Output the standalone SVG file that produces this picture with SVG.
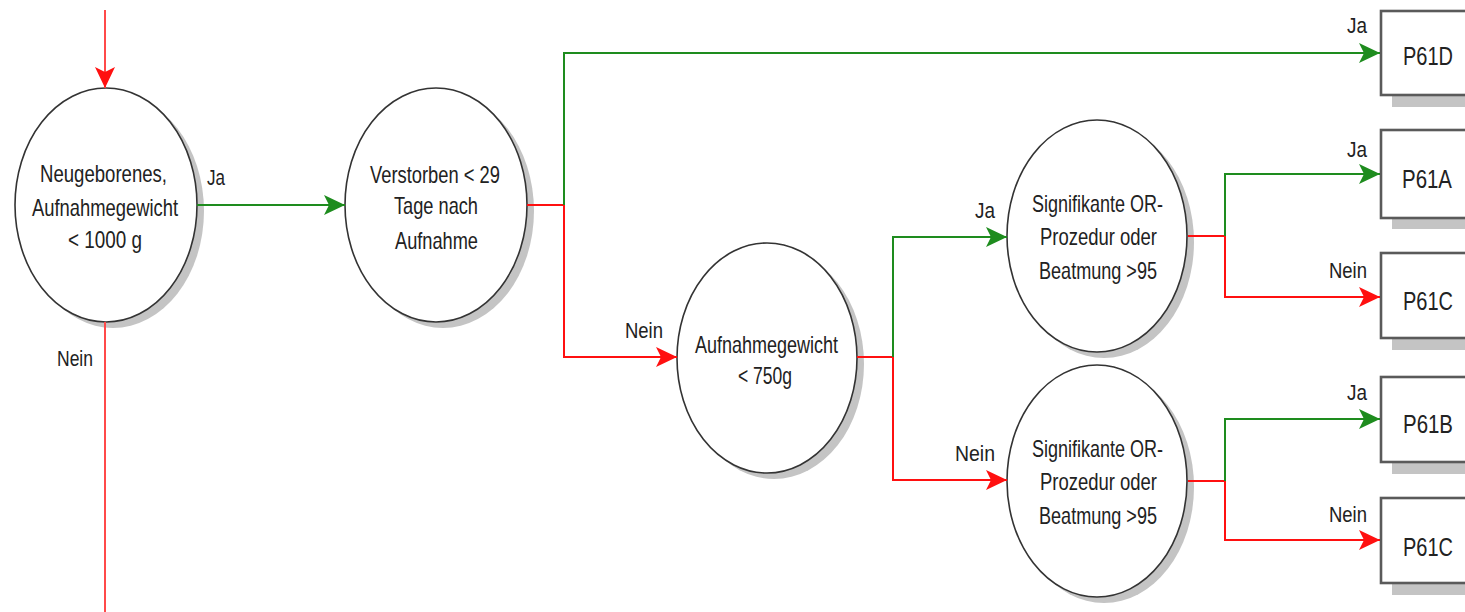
<svg xmlns="http://www.w3.org/2000/svg" width="1465" height="612" viewBox="0 0 1465 612">
<style>
.t{font-family:"Liberation Sans Narrow","Liberation Sans",Arial,sans-serif;font-size:24px;fill:#222}
.l{font-family:"Liberation Sans Narrow","Liberation Sans",Arial,sans-serif;font-size:22px;fill:#222}
.b{font-family:"Liberation Sans Narrow","Liberation Sans",Arial,sans-serif;font-size:25px;fill:#222}
.node{fill:#fff;stroke:#333;stroke-width:1.6}
.sh{fill:#c4c4c4}
.box{fill:#fff;stroke:#5a5a5a;stroke-width:2.6}
.g{fill:none;stroke:#1e8c1e;stroke-width:2}
.r{fill:none;stroke:#ff1010;stroke-width:2}
.rl{fill:none;stroke:#ff4a4a;stroke-width:2}
</style>
<defs>
<marker id="ag" markerUnits="userSpaceOnUse" markerWidth="24" markerHeight="22" refX="21" refY="10" orient="auto"><path d="M0,0 L21,10 L0,20 L5,10 z" fill="#1e8c1e"/></marker>
<marker id="ar" markerUnits="userSpaceOnUse" markerWidth="24" markerHeight="22" refX="21" refY="10" orient="auto"><path d="M0,0 L21,10 L0,20 L5,10 z" fill="#ff1010"/></marker>
</defs>
<g id="n1">
<ellipse class="sh" cx="113" cy="211" rx="91" ry="117"/>
<ellipse class="node" cx="106" cy="205" rx="91" ry="117"/>
<text class="t" x="40" y="182" textLength="127" lengthAdjust="spacingAndGlyphs">Neugeborenes,</text>
<text class="t" x="32" y="216" textLength="146" lengthAdjust="spacingAndGlyphs">Aufnahmegewicht</text>
<text class="t" x="68" y="248" textLength="74" lengthAdjust="spacingAndGlyphs">&lt; 1000 g</text>
</g>
<g id="n2">
<ellipse class="sh" cx="443" cy="211" rx="91" ry="117"/>
<ellipse class="node" cx="436" cy="205" rx="91" ry="117"/>
<text class="t" x="370" y="183" textLength="130" lengthAdjust="spacingAndGlyphs">Verstorben &lt; 29</text>
<text class="t" x="394" y="214" textLength="84" lengthAdjust="spacingAndGlyphs">Tage nach</text>
<text class="t" x="395" y="249" textLength="83" lengthAdjust="spacingAndGlyphs">Aufnahme</text>
</g>
<g id="n3">
<ellipse class="sh" cx="774" cy="364" rx="90" ry="115"/>
<ellipse class="node" cx="767" cy="358" rx="90" ry="115"/>
<text class="t" x="695" y="353" textLength="143" lengthAdjust="spacingAndGlyphs">Aufnahmegewicht</text>
<text class="t" x="738" y="384" textLength="54" lengthAdjust="spacingAndGlyphs">&lt; 750g</text>
</g>
<g id="n4">
<ellipse class="sh" cx="1104" cy="242" rx="90" ry="116"/>
<ellipse class="node" cx="1097" cy="236" rx="90" ry="116"/>
<text class="t" x="1032" y="212" textLength="131" lengthAdjust="spacingAndGlyphs">Signifikante OR-</text>
<text class="t" x="1040" y="245" textLength="117" lengthAdjust="spacingAndGlyphs">Prozedur oder</text>
<text class="t" x="1039" y="279" textLength="118" lengthAdjust="spacingAndGlyphs">Beatmung &gt;95</text>
</g>
<g id="n5">
<ellipse class="sh" cx="1104" cy="487" rx="90" ry="116"/>
<ellipse class="node" cx="1097" cy="481" rx="90" ry="116"/>
<text class="t" x="1032" y="457" textLength="131" lengthAdjust="spacingAndGlyphs">Signifikante OR-</text>
<text class="t" x="1040" y="490" textLength="117" lengthAdjust="spacingAndGlyphs">Prozedur oder</text>
<text class="t" x="1039" y="524" textLength="118" lengthAdjust="spacingAndGlyphs">Beatmung &gt;95</text>
</g>
<g id="p61d">
<rect class="sh" x="1392" y="22" width="100" height="85"/>
<rect class="box" x="1381" y="11" width="100" height="84"/>
<text class="b" x="1403" y="65" textLength="50" lengthAdjust="spacingAndGlyphs">P61D</text>
</g>
<g id="p61a">
<rect class="sh" x="1392" y="141" width="100" height="88"/>
<rect class="box" x="1381" y="130" width="100" height="88"/>
<text class="b" x="1402" y="188" textLength="50" lengthAdjust="spacingAndGlyphs">P61A</text>
</g>
<g id="p61c1">
<rect class="sh" x="1392" y="264" width="100" height="86"/>
<rect class="box" x="1381" y="253" width="100" height="85"/>
<text class="b" x="1403" y="310" textLength="50" lengthAdjust="spacingAndGlyphs">P61C</text>
</g>
<g id="p61b">
<rect class="sh" x="1392" y="388" width="100" height="86"/>
<rect class="box" x="1381" y="377" width="100" height="85"/>
<text class="b" x="1403" y="433" textLength="50" lengthAdjust="spacingAndGlyphs">P61B</text>
</g>
<g id="p61c2">
<rect class="sh" x="1392" y="509" width="100" height="86"/>
<rect class="box" x="1381" y="498" width="100" height="85"/>
<text class="b" x="1403" y="556" textLength="50" lengthAdjust="spacingAndGlyphs">P61C</text>
</g>
<g id="connectors">
<path class="rl" d="M105,10 V88" marker-end="url(#ar)"/>
<path class="rl" d="M105,322 V612"/>
<path class="g" d="M197,205 H345" marker-end="url(#ag)"/>
<path class="r" d="M527,205 H564 V357 H677" marker-end="url(#ar)"/>
<path class="g" d="M564,205 V53 H1380" marker-end="url(#ag)"/>
<path class="r" d="M857,357 H893 V480 H1007" marker-end="url(#ar)"/>
<path class="g" d="M893,357 V237 H1007" marker-end="url(#ag)"/>
<path class="r" d="M1188,236 H1225 V297 H1380" marker-end="url(#ar)"/>
<path class="g" d="M1225,236 V174 H1380" marker-end="url(#ag)"/>
<path class="r" d="M1188,481 H1225 V540 H1380" marker-end="url(#ar)"/>
<path class="g" d="M1225,481 V419 H1380" marker-end="url(#ag)"/>
<text class="l" x="207" y="185" textLength="18" lengthAdjust="spacingAndGlyphs">Ja</text>
<text class="l" x="57" y="366" textLength="36" lengthAdjust="spacingAndGlyphs">Nein</text>
<text class="l" x="625" y="338" textLength="38" lengthAdjust="spacingAndGlyphs">Nein</text>
<text class="l" x="975" y="218" textLength="20" lengthAdjust="spacingAndGlyphs">Ja</text>
<text class="l" x="955" y="461" textLength="40" lengthAdjust="spacingAndGlyphs">Nein</text>
<text class="l" x="1347" y="33" textLength="20" lengthAdjust="spacingAndGlyphs">Ja</text>
<text class="l" x="1347" y="157" textLength="20" lengthAdjust="spacingAndGlyphs">Ja</text>
<text class="l" x="1329" y="278" textLength="38" lengthAdjust="spacingAndGlyphs">Nein</text>
<text class="l" x="1347" y="400" textLength="20" lengthAdjust="spacingAndGlyphs">Ja</text>
<text class="l" x="1329" y="522" textLength="38" lengthAdjust="spacingAndGlyphs">Nein</text>
</g>
</svg>
